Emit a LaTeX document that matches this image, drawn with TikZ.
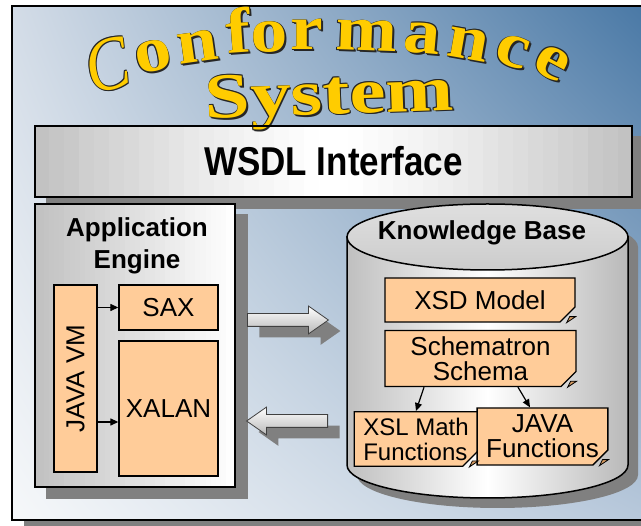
\documentclass[tikz,border=0pt]{standalone}
\usepackage{fontspec}
\setsansfont{Liberation Sans}
\newfontfamily\titleserif{Liberation Serif}
\usetikzlibrary{arrows.meta, shapes.misc, shapes.arrows, shadows, shadings, calc}

\definecolor{gold}{HTML}{FFCC00}
\definecolor{peach}{HTML}{FFCC99}
\definecolor{peachdark}{HTML}{D89C62}
\definecolor{shadowgray}{HTML}{808080}
\definecolor{skytl}{HTML}{D3DCE7}
\definecolor{skytr}{HTML}{4676A4}
\definecolor{skybl}{HTML}{F6F8FA}
\definecolor{skybr}{HTML}{B6C7DA}

\pgfdeclarelayer{backdrop}
\pgfdeclarelayer{shadows}
\pgfsetlayers{backdrop,shadows,main}

\tikzset{
  box shadow/.style={drop shadow={shadow xshift=12pt, shadow yshift=-11pt, fill=shadowgray, opacity=1}},
  panel/.style={draw=black, line width=1.5pt, inner sep=0pt},
  headfont/.style={font=\sffamily\bfseries\fontsize{26}{30}\selectfont, inner sep=0pt},
  peachbox/.style={draw=black, line width=1.3pt, fill=peach, inner sep=0pt,
    font=\sffamily\fontsize{26}{25}\selectfont},
  notebox/.style={peachbox, chamfered rectangle, chamfered rectangle corners=south east,
    chamfered rectangle xsep=9pt, chamfered rectangle ysep=6pt, align=center},
  smallarrow/.style={line width=1.2pt, -{Triangle[length=8pt, width=7pt]}},
  blockarrow/.style={single arrow, draw=black!75, line width=0.8pt, top color=white,
    bottom color=gray!55, minimum height=81pt, minimum width=27pt,
    single arrow head extend=7.5pt, single arrow tip angle=70,
    inner xsep=0pt, inner ysep=6pt, box shadow},
  titleletter/.style={font=\titleserif\bfseries\fontsize{64}{64}\selectfont, anchor=base, inner sep=0pt},
  titlecap/.style={font=\titleserif\itshape\fontsize{76}{76}\selectfont, anchor=base, inner sep=0pt}
}

% gold letter with a dark rim
\newcommand{\goldletter}[7]{%
  \foreach \dx/\dy [count=\k] in {1.7/1.7, 0.9/0.9, -0.6/-0.6, 0.6/-0.6, -0.6/0.6}
    {\node[#2, text=black!85, rotate=#6] (#3-\k) at (#4+\dx, #5+\dy) {\scalebox{#1}[1]{#7}};}
  \node[#2, text=gold, rotate=#6] (#3) at (#4, #5) {\scalebox{#1}[1]{#7}};
}
% grey shadow and striped grey face behind a named panel (#2: grey amount of \t)
\newcommand{\panelface}[2]{%
  \begin{pgfonlayer}{shadows}
    \fill[shadowgray] ([shift={(12,11)}]#1.north west) rectangle ([shift={(12,11)}]#1.south east);
    \foreach \i in {0,...,39} {
      \pgfmathsetmacro\t{(\i+0.5)/40}
      \pgfmathtruncatemacro\c{#2}
      \pgfmathsetmacro\ta{\i/40}
      \pgfmathsetmacro\tb{min(1,(\i+1.2)/40)}
      \fill[gray!\c] ($(#1.north west)!\ta!(#1.north east)$) rectangle ($(#1.south west)!\tb!(#1.south east)$);
    }
  \end{pgfonlayer}}

\begin{document}
\begin{tikzpicture}[x=1pt, y=-1pt]
\useasboundingbox (0,0) rectangle (641,526);

% background frame
\begin{pgfonlayer}{backdrop}
\fill[shadowgray] (24,520) rectangle (660,535);
\shade[upper left=skytl, upper right=skytr, lower left=skybl, lower right=skybr] (12,6) rectangle (660,520);
\draw[line width=2pt] (660,6) -- (12,6) -- (12,520) -- (660,520);
\end{pgfonlayer}

% title
\goldletter{0.85}{titlecap}{tC}{113}{89}{14}{C}
\foreach \name/\x/\y/\a/\l in {to1/156/71/12/o, tn1/200/62/8/n, tf/240/53/4/f, to2/270/52/2/o,
    tr/307/50/0/r, tm/366/51/-2/m, ta/421/53/-5/a, tn2/466/59/-10/n, tc/508/66/-18/c, te/545/76/-28/e}
  {\goldletter{1.15}{titleletter}{\name}{\x}{\y}{\a}{\l}}
\goldletter{1.27}{titleletter}{tsys}{330}{114}{2}{System}

% WSDL interface
\node[panel, minimum width=597, minimum height=71,
  font=\sffamily\bfseries\fontsize{35}{40}\selectfont] (wsdl) at (333.5,161.5)
  {\scalebox{1}[1.15]{WSDL Interface}};
\panelface{wsdl}{50*abs(2*\t-1)^1.3}

% application engine
\node[panel, minimum width=200, minimum height=283] (app) at (135,345.5) {};
\panelface{app}{50*(1-\t)}
\node[headfont, anchor=base] (apptitle) at (137,237) {Application};
\node[headfont, anchor=base] (appsub) at (137,269) {Engine};
\node[peachbox, minimum width=43, minimum height=187] (jvm) at (75.5,378.5) {\rotatebox{90}{JAVA VM}};
\node[peachbox, minimum width=99, minimum height=45] (sax) at (168.5,307.5) {SAX};
\node[peachbox, minimum width=99, minimum height=135] (xalan) at (168.5,408.5) {XALAN};
\draw[smallarrow] (jvm.east |- sax.west) -- (sax.west);
\draw[smallarrow] ([yshift=-43.5pt]jvm.east) -- ([yshift=-43.5pt]jvm.east -| xalan.west);

% knowledge base
\fill[shadowgray, shift={(10,10)}] (347,237) -- (347,465)
  arc[start angle=180, end angle=0, x radius=140.5, y radius=33] -- (628,237)
  arc[start angle=0, end angle=-180, x radius=140.5, y radius=33] -- cycle;
\shade[left color=gray!50, right color=gray!55, middle color=white, draw=black, line width=1.5pt]
  (347,237) -- (347,465) arc[start angle=180, end angle=0, x radius=140.5, y radius=33] -- (628,237) -- cycle;
\coordinate (kbtop) at (487.5,237);
\shade[top color=gray!25, bottom color=gray!40, draw=black, line width=1.5pt]
  (kbtop) ellipse [x radius=140.5, y radius=33];
\node[headfont, anchor=base] (kbtitle) at (482,240) {Knowledge Base};
\node[notebox, minimum width=190, minimum height=44] (xsd) at (480,300) {XSD Model};
\node[notebox, minimum width=191, minimum height=53] (schem) at (480.5,358.5) {Schematron\\Schema};
\node[notebox, minimum width=116, minimum height=54, align=left,
  font=\sffamily\fontsize{24}{25}\selectfont] (xslm) at (416,439) {XSL Math\\Functions};
\node[notebox, minimum width=125, minimum height=57] (javaf) at (542.5,436.5) {JAVA\\Functions};
\foreach \n in {xsd, schem, xslm, javaf}
  \filldraw[fill=peachdark, line width=0.8pt] ([yshift=6pt]\n.south -| \n.east)
    -- ([xshift=-9pt]\n.south -| \n.east) -- ([xshift=-6pt, yshift=6pt]\n.south -| \n.east) -- cycle;
\draw[smallarrow] ([xshift=-56.5pt]schem.south) -- (xslm.north);
\draw[smallarrow] ([xshift=37.5pt]schem.south) -- ([xshift=-12.5pt]javaf.north);

% exchange arrows
\node[blockarrow, anchor=tail] (fwd) at (247,320) {};
\node[blockarrow, shape border rotate=180, anchor=tail] (back) at (328,421) {};
\end{tikzpicture}
\end{document}
